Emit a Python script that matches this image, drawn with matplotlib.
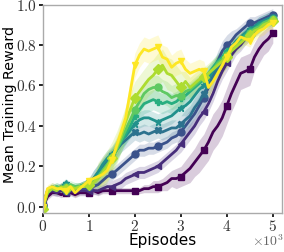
import numpy as np
import matplotlib
matplotlib.use("Agg")
import matplotlib.pyplot as plt
from matplotlib.ticker import FuncFormatter

plt.rcParams['mathtext.fontset'] = 'cm'
plt.rcParams['font.family'] = 'DejaVu Sans'

# episodes, sampled every 100
episodes = np.arange(0, 5001, 100)

# mean training reward per run (viridis order, dark -> light)
r_purple = [0.00, 0.05, 0.07, 0.07, 0.06, 0.07, 0.07, 0.06, 0.07, 0.07,
             0.07, 0.08, 0.07, 0.08, 0.08, 0.08, 0.08, 0.08, 0.08, 0.08,
             0.08, 0.08, 0.09, 0.09, 0.10, 0.10, 0.11, 0.12, 0.14, 0.14,
             0.15, 0.17, 0.19, 0.22, 0.25, 0.28, 0.32, 0.37, 0.40, 0.44,
             0.50, 0.56, 0.61, 0.66, 0.67, 0.68, 0.74, 0.78, 0.81, 0.83, 0.86]
r_indigo = [0.01, 0.07, 0.08, 0.07, 0.08, 0.07, 0.08, 0.07, 0.08, 0.08,
            0.08, 0.08, 0.08, 0.09, 0.10, 0.10, 0.11, 0.12, 0.14, 0.15,
            0.16, 0.17, 0.17, 0.18, 0.19, 0.20, 0.22, 0.24, 0.26, 0.28,
            0.31, 0.34, 0.37, 0.40, 0.44, 0.47, 0.51, 0.56, 0.62, 0.67,
            0.71, 0.75, 0.78, 0.80, 0.83, 0.85, 0.87, 0.89, 0.91, 0.93, 0.94]
r_blue = [0.01, 0.07, 0.09, 0.08, 0.09, 0.08, 0.09, 0.08, 0.09, 0.09,
          0.10, 0.10, 0.11, 0.13, 0.15, 0.16, 0.18, 0.20, 0.22, 0.24,
          0.26, 0.28, 0.28, 0.29, 0.29, 0.30, 0.31, 0.32, 0.34, 0.35,
          0.37, 0.40, 0.43, 0.46, 0.50, 0.54, 0.59, 0.65, 0.72, 0.77,
          0.80, 0.82, 0.85, 0.87, 0.89, 0.91, 0.91, 0.92, 0.93, 0.94, 0.95]
r_dteal = [0.00, 0.08, 0.09, 0.08, 0.10, 0.09, 0.10, 0.09, 0.10, 0.11,
           0.12, 0.14, 0.17, 0.20, 0.23, 0.25, 0.28, 0.31, 0.33, 0.35,
           0.37, 0.36, 0.37, 0.36, 0.37, 0.38, 0.37, 0.38, 0.39, 0.39,
           0.41, 0.43, 0.45, 0.49, 0.52, 0.56, 0.60, 0.64, 0.68, 0.71,
           0.74, 0.77, 0.80, 0.83, 0.85, 0.87, 0.89, 0.91, 0.92, 0.93, 0.94]
r_teal = [0.01, 0.08, 0.10, 0.09, 0.10, 0.12, 0.10, 0.09, 0.10, 0.11,
          0.12, 0.14, 0.17, 0.21, 0.24, 0.26, 0.29, 0.33, 0.35, 0.38,
          0.41, 0.43, 0.44, 0.44, 0.43, 0.42, 0.43, 0.44, 0.45, 0.47,
          0.49, 0.50, 0.52, 0.55, 0.58, 0.60, 0.63, 0.67, 0.70, 0.73,
          0.76, 0.79, 0.82, 0.84, 0.86, 0.88, 0.89, 0.91, 0.92, 0.93, 0.94]
r_tgreen = [0.00, 0.07, 0.09, 0.10, 0.09, 0.10, 0.09, 0.10, 0.10, 0.11,
            0.11, 0.13, 0.15, 0.18, 0.21, 0.24, 0.28, 0.32, 0.36, 0.40,
            0.45, 0.48, 0.51, 0.52, 0.53, 0.52, 0.51, 0.52, 0.51, 0.52,
            0.54, 0.55, 0.57, 0.59, 0.61, 0.63, 0.66, 0.69, 0.72, 0.74,
            0.77, 0.79, 0.81, 0.83, 0.85, 0.87, 0.88, 0.90, 0.91, 0.92, 0.93]
r_green = [0.00, 0.08, 0.09, 0.10, 0.09, 0.10, 0.11, 0.10, 0.10, 0.11,
           0.12, 0.13, 0.15, 0.18, 0.21, 0.24, 0.28, 0.33, 0.38, 0.43,
           0.48, 0.52, 0.56, 0.58, 0.59, 0.59, 0.57, 0.56, 0.54, 0.55,
           0.55, 0.57, 0.58, 0.60, 0.62, 0.64, 0.66, 0.68, 0.71, 0.73,
           0.75, 0.78, 0.80, 0.82, 0.84, 0.86, 0.88, 0.89, 0.91, 0.92, 0.93]
r_lgreen = [-0.01, 0.07, 0.09, 0.08, 0.10, 0.09, 0.10, 0.09, 0.10, 0.10,
            0.11, 0.12, 0.14, 0.17, 0.20, 0.24, 0.29, 0.35, 0.42, 0.48,
            0.54, 0.57, 0.60, 0.63, 0.65, 0.68, 0.70, 0.66, 0.65, 0.62,
            0.59, 0.62, 0.59, 0.61, 0.63, 0.64, 0.66, 0.68, 0.70, 0.72,
            0.74, 0.77, 0.79, 0.81, 0.83, 0.85, 0.87, 0.88, 0.90, 0.91, 0.92]
r_yellow = [0.00, 0.09, 0.10, 0.09, 0.09, 0.08, 0.10, 0.07, 0.09, 0.11,
            0.13, 0.14, 0.15, 0.16, 0.18, 0.23, 0.30, 0.37, 0.44, 0.57,
            0.70, 0.75, 0.78, 0.77, 0.78, 0.79, 0.74, 0.73, 0.69, 0.71,
            0.72, 0.68, 0.66, 0.67, 0.68, 0.67, 0.59, 0.62, 0.66, 0.70,
            0.74, 0.79, 0.81, 0.84, 0.83, 0.82, 0.85, 0.87, 0.88, 0.90, 0.91]

# spread of the runs (half width of the shaded band)
s_purple = [0.015] * 22 + [0.02, 0.02, 0.03, 0.03, 0.03, 0.04, 0.04, 0.05, 0.05,
                           0.06, 0.07, 0.07, 0.08, 0.08, 0.09, 0.09, 0.09, 0.09, 0.09,
                           0.09, 0.09, 0.08, 0.08, 0.08, 0.07, 0.07, 0.06, 0.06, 0.05]
s_indigo = [0.02] * 15 + [0.03] * 15 + [0.04] * 12 + [0.03] * 9
s_blue = [0.02] * 13 + [0.03] * 17 + [0.05] * 12 + [0.03] * 9
s_dteal = [0.02] * 11 + [0.04] * 20 + [0.05] * 10 + [0.03] * 10
s_teal = [0.02] * 11 + [0.04] * 20 + [0.05] * 10 + [0.03] * 10
s_tgreen = [0.02] * 12 + [0.05] * 19 + [0.04] * 10 + [0.03] * 10
s_green = [0.02] * 12 + [0.06] * 19 + [0.04] * 10 + [0.03] * 10
s_lgreen = [0.02] * 12 + [0.08] * 19 + [0.05] * 10 + [0.03] * 10
s_yellow = [0.02] * 12 + [0.05] * 7 + [0.06] * 12 + [0.05] * 10 + [0.03] * 10

runs = [r_purple, r_indigo, r_blue, r_dteal, r_teal, r_tgreen, r_green, r_lgreen, r_yellow]
spreads = [s_purple, s_indigo, s_blue, s_dteal, s_teal, s_tgreen, s_green, s_lgreen, s_yellow]
markers = ['s', '<', 'o', 'X', '*', 'P', 'o', 'D', 'v']
colors = plt.cm.viridis(np.linspace(0, 1, len(runs)))

fig = plt.figure(figsize=(2.84, 2.52), dpi=100)
ax = fig.add_axes([0.151, 0.155, 0.842, 0.827])

for mean, sd, c in zip(runs, spreads, colors):
    mean = np.array(mean)
    sd = np.array(sd)
    ax.fill_between(episodes, mean - sd, mean + sd, color=c, alpha=0.2, lw=0)
for mean, mk, c in zip(runs, markers, colors):
    ax.plot(episodes, mean, color=c, lw=2, marker=mk, ms=5, markevery=5)

ax.set_xlim(0, 5200)
ax.set_ylim(-0.03, 1.0)
ax.set_xticks([0, 1000, 2000, 3000, 4000, 5000])
ax.set_yticks([0.0, 0.2, 0.4, 0.6, 0.8, 1.0])
ax.xaxis.set_major_formatter(FuncFormatter(lambda v, p: r'$%d$' % round(v / 1000)))
ax.yaxis.set_major_formatter(FuncFormatter(lambda v, p: r'$%.1f$' % v))
ax.tick_params(direction='out', length=3, width=1.2, labelsize=11, pad=1.5,
               labelcolor='#333333')
for sp in ax.spines.values():
    sp.set_color('#aaaaaa')
    sp.set_linewidth(1)

ax.set_xlabel('Episodes', fontsize=11, labelpad=-1)
ax.set_ylabel('Mean Training Reward', fontsize=10.3)
ax.yaxis.set_label_coords(-0.108, 0.52)
ax.text(1.005, -0.1, r'$\times 10^{3}$', transform=ax.transAxes, ha='right', va='top',
        fontsize=10, color='#666666')

fig.savefig('out.png', dpi=100)
